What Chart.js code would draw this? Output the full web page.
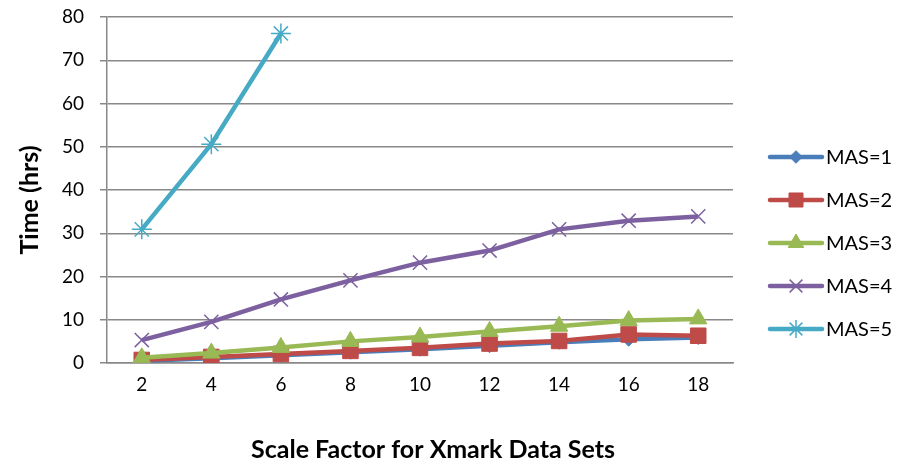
<!DOCTYPE html>
<html>
<head>
<meta charset="utf-8">
<script src="https://cdn.jsdelivr.net/npm/chart.js@4/dist/chart.umd.min.js"></script>
<style>
  html, body { margin: 0; padding: 0; background: #fff; }
  #wrap { width: 900px; height: 468px; }
</style>
</head>
<body>
<div id="wrap"><canvas id="c" width="900" height="468"></canvas></div>
<script>
// Scale factors on the x axis
const scaleFactors = [2, 4, 6, 8, 10, 12, 14, 16, 18];

// Running time (hours) per MAS setting
const mas1 = [0.5, 1.1, 1.8, 2.5, 3.2, 4.0, 4.8, 5.5, 5.9];
const mas2 = [0.7, 1.4, 2.1, 2.8, 3.5, 4.5, 5.1, 6.6, 6.3];
const mas3 = [1.2, 2.3, 3.6, 5.0, 6.0, 7.3, 8.5, 9.8, 10.2];
const mas4 = [5.3, 9.5, 14.7, 19.1, 23.2, 26.0, 30.9, 32.9, 33.9];
const mas5 = [30.9, 50.6, 76.2, null, null, null, null, null, null];

const seriesLabels = ['MAS=1', 'MAS=2', 'MAS=3', 'MAS=4', 'MAS=5'];
const yTicks = [0, 10, 20, 30, 40, 50, 60, 70, 80];
const xTitle = 'Scale Factor for Xmark Data Sets';
const yTitle = 'Time (hrs)';

const FONT = 'Lato, "Open Sans", sans-serif';

const styles = [
  { color: '#4A7EBB', pointStyle: 'rectRot', radius: 7,  bw: 1 },
  { color: '#BE4B48', pointStyle: 'rect',    radius: 11, bw: 1 },
  { color: '#98B954', pointStyle: 'triangle',radius: 10, bw: 1 },
  { color: '#7D60A0', pointStyle: 'crossRot',radius: 10, bw: 1.5 },
  { color: '#46AAC5', pointStyle: 'star',    radius: 10, bw: 1.5 }
];

const values = [mas1, mas2, mas3, mas4, mas5];

const datasets = values.map((v, i) => ({
  label: seriesLabels[i],
  data: v,
  borderColor: styles[i].color,
  backgroundColor: styles[i].color,
  pointBackgroundColor: styles[i].color,
  pointBorderColor: styles[i].color,
  pointStyle: styles[i].pointStyle,
  pointRadius: styles[i].radius,
  pointBorderWidth: styles[i].bw,
  borderWidth: 4.5,
  tension: 0,
  spanGaps: false,
  order: 5 - i
}));

// Axis titles, placed relative to the whole chart rather than the plot area
const axisTitles = {
  id: 'axisTitles',
  afterDraw(chart) {
    const ctx = chart.ctx;
    ctx.save();
    ctx.fillStyle = '#000';
    ctx.font = 'bold 25px ' + FONT;
    ctx.textAlign = 'center';
    ctx.textBaseline = 'middle';
    ctx.fillText(xTitle, 433, 450);
    ctx.translate(30, 200);
    ctx.rotate(-Math.PI / 2);
    ctx.fillText(yTitle, 0, 0);
    ctx.restore();
  }
};

// Legend on the right: a short line with the series marker in its middle
const sideLegend = {
  id: 'sideLegend',
  afterDraw(chart) {
    const ctx = chart.ctx;
    const x0 = 770, x1 = 822, top = 157, gap = 43;
    ctx.save();
    chart.data.datasets.forEach((ds, i) => {
      const y = top + i * gap;
      ctx.strokeStyle = ds.borderColor;
      ctx.lineWidth = 4.5;
      ctx.lineCap = 'round';
      ctx.beginPath();
      ctx.moveTo(x0, y);
      ctx.lineTo(x1, y);
      ctx.stroke();
      ctx.fillStyle = ds.pointBackgroundColor;
      ctx.strokeStyle = ds.pointBorderColor;
      ctx.lineWidth = ds.pointBorderWidth;
      ctx.lineCap = 'butt';
      Chart.helpers.drawPoint(ctx, {
        pointStyle: ds.pointStyle,
        radius: ds.pointRadius * 0.9,
        borderWidth: ds.pointBorderWidth,
        rotation: 0
      }, (x0 + x1) / 2, y);
      ctx.fillStyle = '#000';
      ctx.font = '20px ' + FONT;
      ctx.textAlign = 'left';
      ctx.textBaseline = 'middle';
      ctx.fillText(ds.label, x1 + 4, y + 1);
    });
    ctx.restore();
  }
};

new Chart(document.getElementById('c'), {
  type: 'line',
  data: { labels: scaleFactors.map(String), datasets },
  options: {
    responsive: false,
    animation: false,
    layout: { padding: { left: 14, right: 167, top: 17, bottom: 4 } },
    plugins: {
      legend: { display: false },
      tooltip: { enabled: false }
    },
    scales: {
      x: {
        offset: true,
        grid: { display: false, drawTicks: false },
        border: { display: true, color: '#888', width: 1.5 },
        ticks: { color: '#000', font: { family: FONT, size: 19 }, padding: 10, maxRotation: 0 },
        afterFit(scale) {
          scale.height = 468 - 363 - 4;
          scale.paddingLeft = 0;
          scale.paddingRight = 0;
        }
      },
      y: {
        min: 0,
        max: 80,
        afterBuildTicks(scale) { scale.ticks = yTicks.map(v => ({ value: v })); },
        grid: { color: '#888', lineWidth: 1.5, tickLength: 7, drawTicks: true },
        border: { display: true, color: '#888', width: 1.5 },
        ticks: { color: '#000', font: { family: FONT, size: 19 }, padding: 16 },
        afterFit(scale) {
          scale.width = 107 - 14;
          scale.paddingTop = 0;
          scale.paddingBottom = 0;
        }
      }
    }
  },
  plugins: [axisTitles, sideLegend]
});
</script>
</body>
</html>
